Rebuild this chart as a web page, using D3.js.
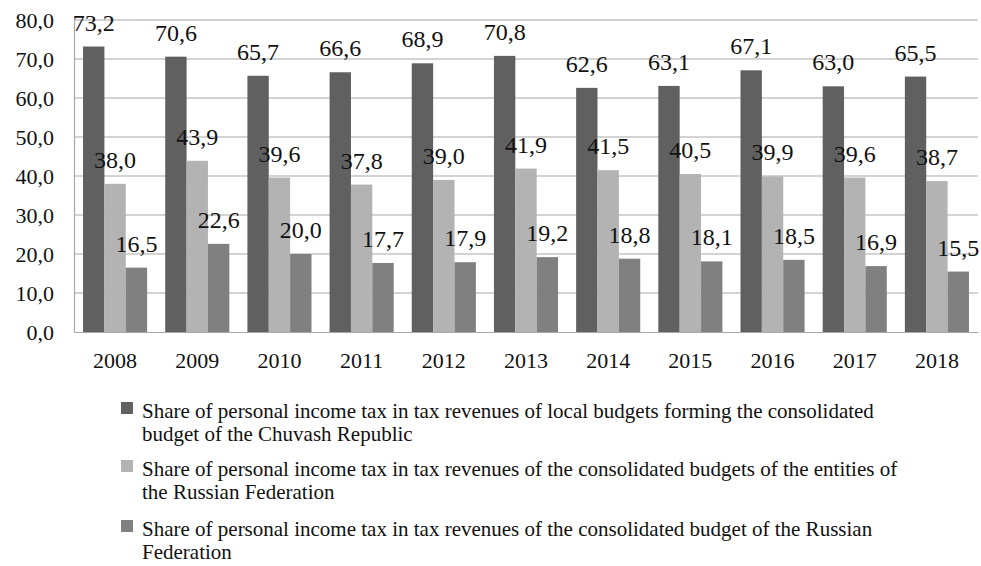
<!DOCTYPE html>
<html>
<head>
<meta charset="utf-8">
<script src="https://cdn.jsdelivr.net/npm/d3@7"></script>
<style>
  body { margin: 0; background: #fff; }
</style>
</head>
<body>
<div id="chart"></div>
<script>
const years = ["2008", "2009", "2010", "2011", "2012", "2013", "2014", "2015", "2016", "2017", "2018"];
const localBudgets = [73.2, 70.6, 65.7, 66.6, 68.9, 70.8, 62.6, 63.1, 67.1, 63.0, 65.5];
const entitiesBudgets = [38.0, 43.9, 39.6, 37.8, 39.0, 41.9, 41.5, 40.5, 39.9, 39.6, 38.7];
const federalBudget = [16.5, 22.6, 20.0, 17.7, 17.9, 19.2, 18.8, 18.1, 18.5, 16.9, 15.5];
const yTicks = [0, 10, 20, 30, 40, 50, 60, 70, 80];
const seriesNames = [
  ["Share of personal income tax in tax revenues of local budgets forming the consolidated", "budget of the Chuvash Republic"],
  ["Share of personal income tax in tax revenues of the consolidated budgets of the entities of", "the Russian Federation"],
  ["Share of personal income tax in tax revenues of the consolidated budget of the Russian", "Federation"]
];
const colors = ["#606060", "#b3b3b3", "#808080"];
const serif = "'Liberation Serif', 'Times New Roman', serif";

function createPlot() {
  const series = [localBudgets, entitiesBudgets, federalBudget];
  const width = 981, height = 566;
  const left = 74, right = 978, top = 20, bottom = 332;

  const svg = d3.select("#chart").append("svg")
      .attr("width", width)
      .attr("height", height)
      .style("font-family", serif);

  const x = d3.scaleBand()
      .domain(years)
      .range([left, right])
      .paddingInner(0.22)
      .paddingOuter(0.11);

  const xInner = d3.scaleBand()
      .domain([0, 1, 2])
      .range([0, x.bandwidth()]);

  const y = d3.scaleLinear()
      .domain([0, 80])
      .range([bottom, top]);

  // gridlines
  svg.append("g")
      .selectAll("line")
      .data(yTicks.filter(d => d > 0))
      .join("line")
      .attr("x1", left)
      .attr("x2", right)
      .attr("y1", d => y(d))
      .attr("y2", d => y(d))
      .style("stroke", "#a8a8a8")
      .style("stroke-width", 1.2);

  // bars
  series.forEach((vals, s) => {
    svg.append("g")
        .selectAll("rect")
        .data(vals)
        .join("rect")
        .attr("x", (d, i) => x(years[i]) + xInner(s))
        .attr("y", d => y(d))
        .attr("width", xInner.bandwidth())
        .attr("height", d => y(0) - y(d))
        .style("fill", colors[s]);
  });

  // data labels
  series.forEach((vals, s) => {
    svg.append("g")
        .selectAll("text")
        .data(vals)
        .join("text")
        .attr("x", (d, i) => x(years[i]) + xInner(s) + xInner.bandwidth() / 2)
        .attr("y", d => y(d) - 16)
        .attr("text-anchor", "middle")
        .attr("font-family", serif)
        .attr("font-size", 24)
        .attr("fill", "#111")
        .text(d => d.toFixed(1).replace(".", ","));
  });

  // axes
  const yAxis = svg.append("g")
      .attr("transform", `translate(${left},0)`)
      .call(d3.axisLeft(y).tickValues(yTicks).tickSize(0).tickPadding(20)
        .tickFormat(d => d.toFixed(1).replace(".", ",")))
      .attr("font-family", serif)
      .attr("font-size", 22);
  yAxis.select(".domain").style("stroke", "#a8a8a8").style("stroke-width", 1.2);
  yAxis.selectAll("text").attr("dy", "0.35em").attr("fill", "#111");

  const xAxis = svg.append("g")
      .attr("transform", `translate(0,${bottom})`)
      .call(d3.axisBottom(x).tickSize(0).tickPadding(20))
      .attr("font-family", serif)
      .attr("font-size", 22);
  xAxis.select(".domain").style("stroke", "#a8a8a8").style("stroke-width", 1.2);
  xAxis.selectAll("text").attr("fill", "#111");

  // legend
  const legendY = [402, 460, 520];
  const legend = svg.append("g")
      .attr("font-family", serif)
      .attr("font-size", 21)
      .attr("fill", "#111");
  seriesNames.forEach((lines, s) => {
    const g = legend.append("g").attr("transform", `translate(121,${legendY[s]})`);
    g.append("rect")
        .attr("width", 12)
        .attr("height", 12)
        .attr("fill", colors[s]);
    lines.forEach((t, k) => {
      g.append("text")
          .attr("x", 21)
          .attr("y", 16 + k * 23)
          .text(t);
    });
  });
}

createPlot();
</script>
</body>
</html>
